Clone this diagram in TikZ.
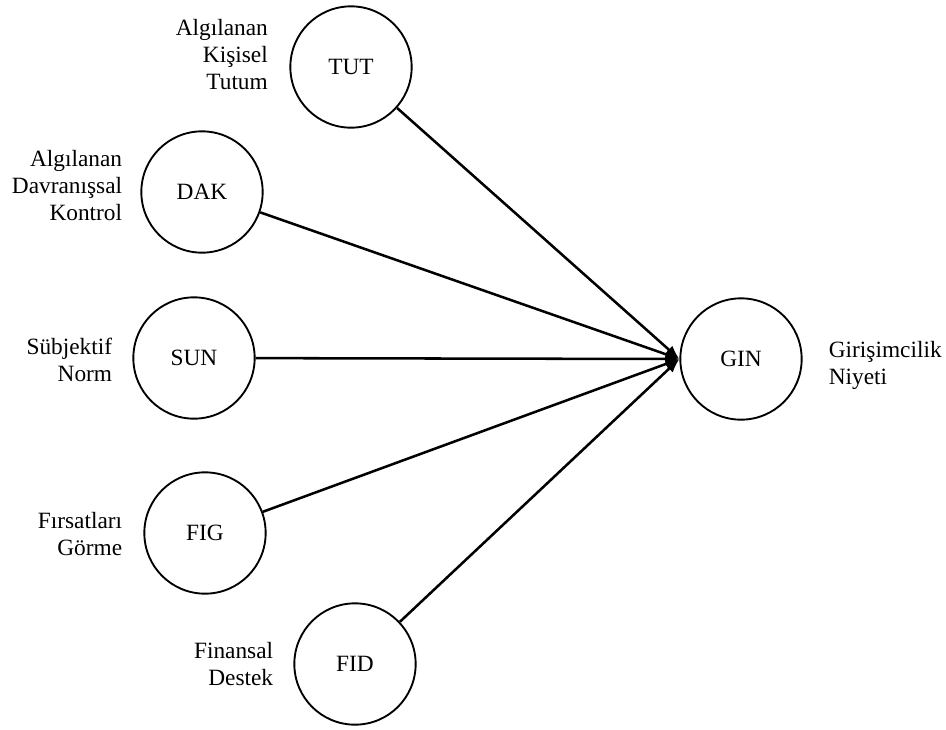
\documentclass[tikz,border=0pt]{standalone}
\usepackage{fontspec}
\setmainfont{Liberation Serif}
\usetikzlibrary{positioning,arrows.meta}
\begin{document}
\begin{tikzpicture}[x=0.75pt,y=-0.75pt,>={Latex[length=10.5pt,width=8pt]},
		var/.style={draw,circle,line width=1.4pt,minimum size=91pt,inner sep=0pt,font=\fontsize{17.5}{20.25}\selectfont},
		lbl/.style={inner sep=0pt,align=right,font=\fontsize{17.5}{20.25}\selectfont},
		lien/.style={->,line width=1.9pt}]
		\useasboundingbox (0,0) rectangle (946,729);
		\node[var] (TUT) at (351,67) {TUT};
		\node[var] (DAK) at (202,192) {DAK};
		\node[var] (SUN) at (194,358) {SUN};
		\node[var] (FIG) at (205,533) {FIG};
		\node[var] (FID) at (355,664) {FID};
		\node[var] (GIN) at (741,359) {GIN};
		\node[lbl,left=16pt of TUT,yshift=9pt] (TUTlbl) {Algılanan\\Kişisel\\Tutum};
		\node[lbl,left=13.5pt of DAK,yshift=4.5pt] (DAKlbl) {Algılanan\\Davranışsal\\Kontrol};
		\node[lbl,left=15pt of SUN,yshift=-1.5pt] (SUNlbl) {Sübjektif\\Norm};
		\node[lbl,left=15.75pt of FIG,yshift=-1pt] (FIGlbl) {Fırsatları\\Görme};
		\node[lbl,left=15pt of FID] (FIDlbl) {Finansal\\Destek};
		\node[lbl,align=left,right=19.5pt of GIN,yshift=-4.5pt] (GINlbl) {Girişimcilik\\Niyeti};
		\draw[lien] (TUT)--(GIN.west);
		\draw[lien] (DAK)--(GIN.west);
		\draw[lien] (SUN)--(GIN.west);
		\draw[lien] (FIG)--(GIN.west);
		\draw[lien] (FID)--(GIN.west);
	\end{tikzpicture}
\end{document}
